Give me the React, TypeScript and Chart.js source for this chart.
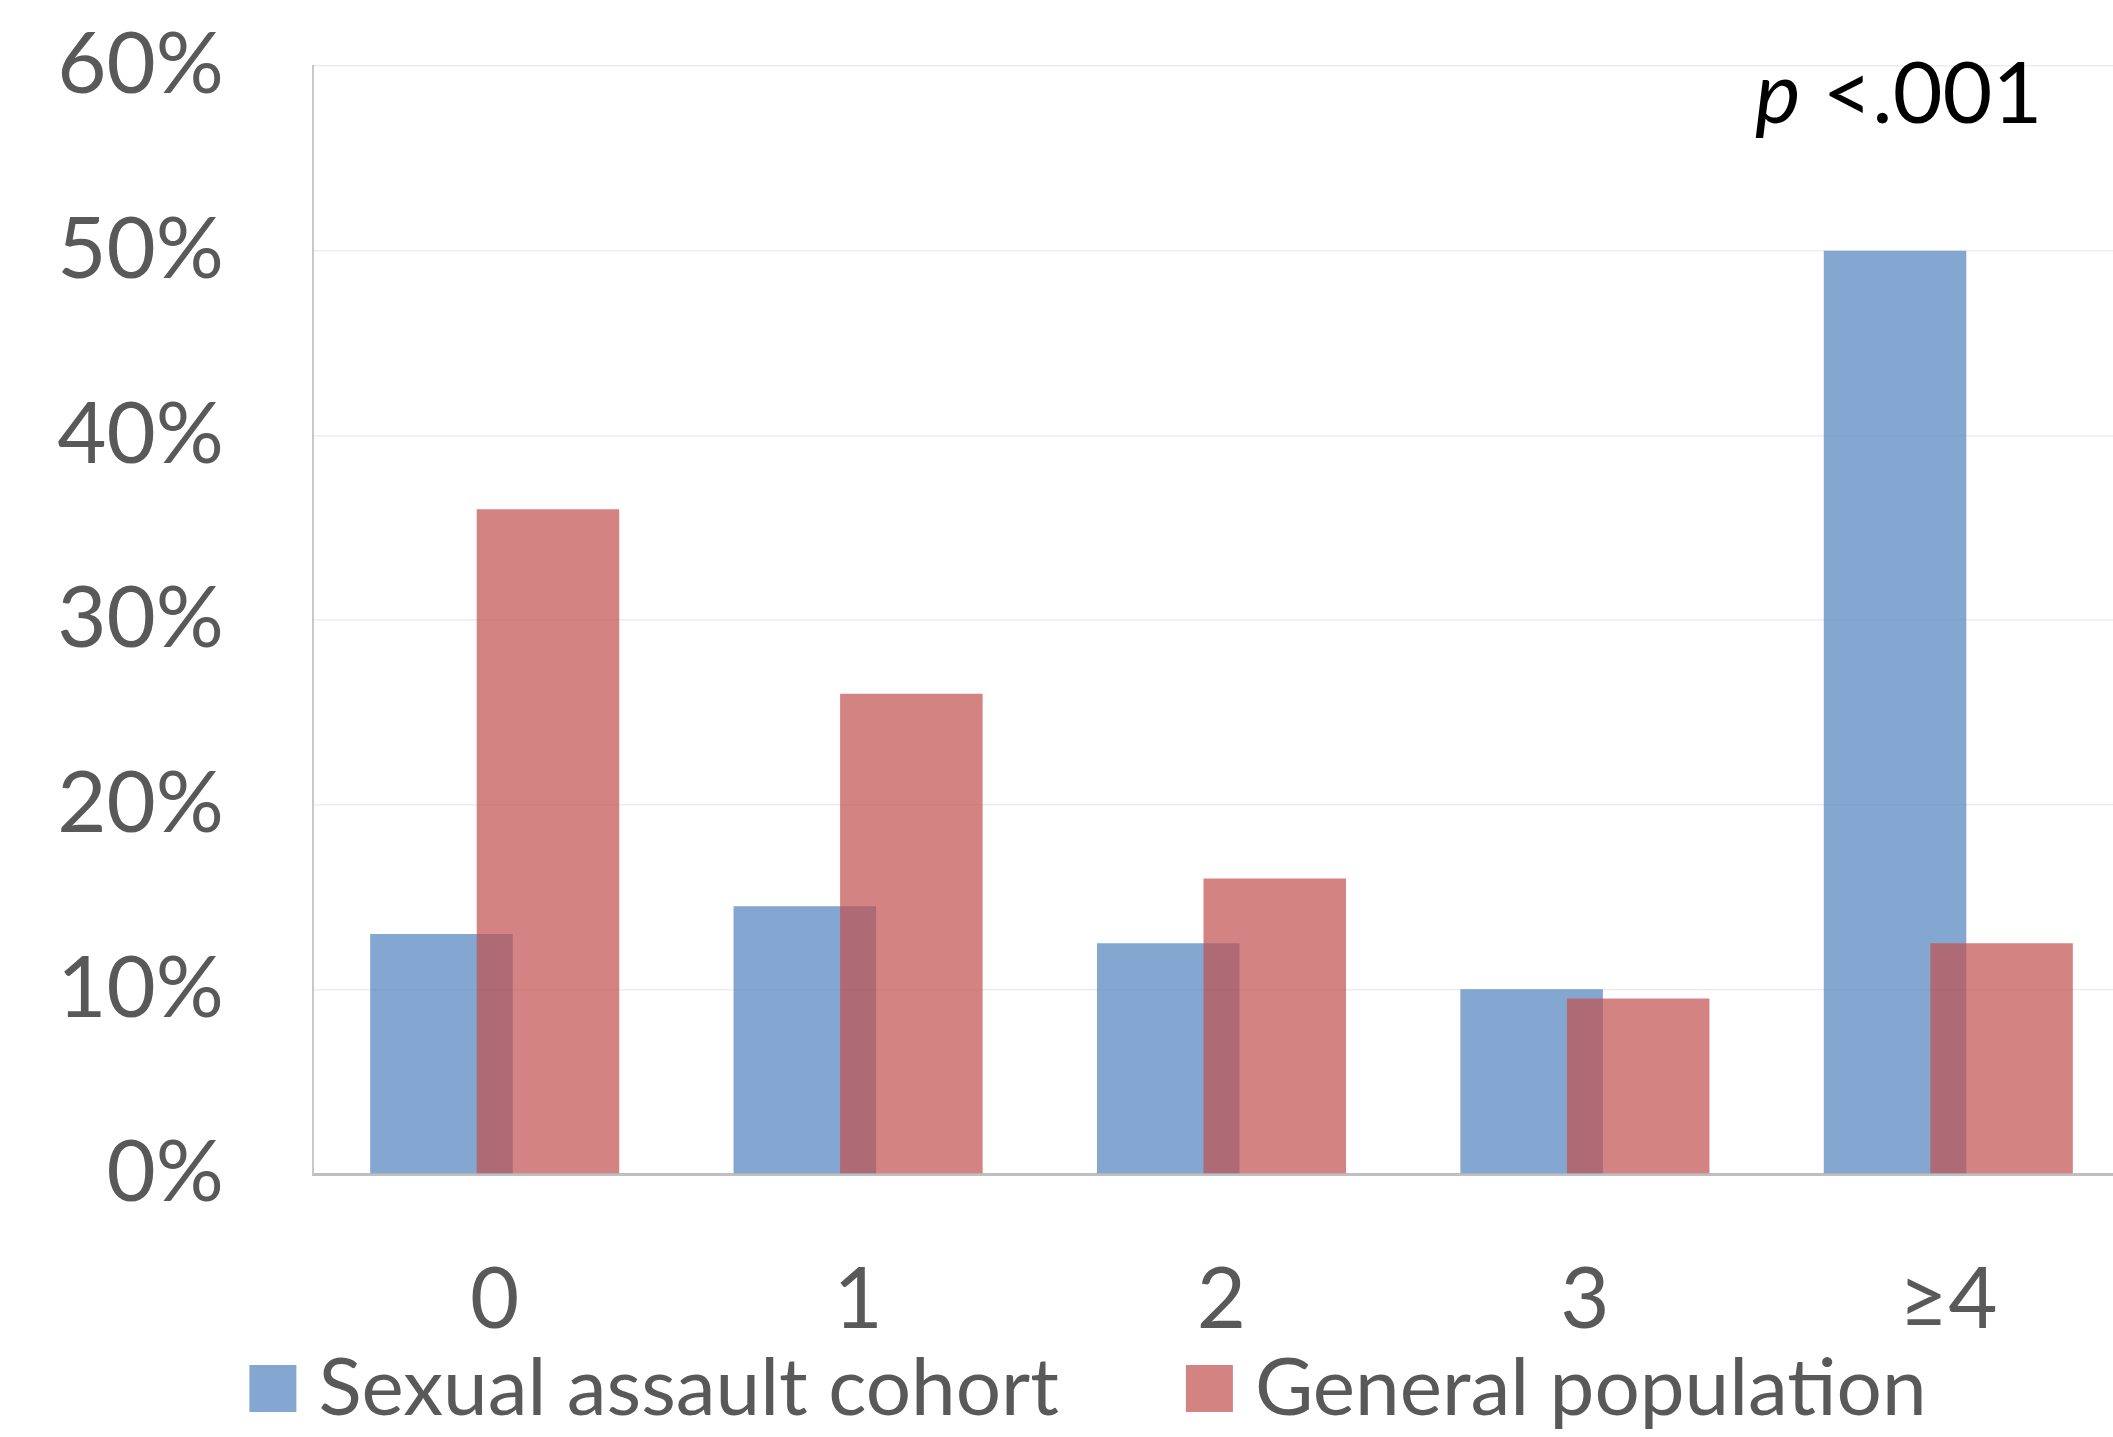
import React, { useEffect, useRef } from 'react';
import { Chart, registerables } from 'chart.js';

Chart.register(...registerables);

// ---- data ----
const categories = ['0', '1', '2', '3', '≥4'];
const assaultCohort = [13, 14.5, 12.5, 10, 50];
const generalPopulation = [36, 26, 16, 9.5, 12.5];
const seriesNames = ['Sexual assault cohort', 'General population'];
const yMin = 0;
const yMax = 60;
const yStep = 10;
const pValueItalic = 'p';
const pValueRest = ' <.001';

// ---- style ----
const FONT = 'Lato';
const TEXT_GREY = '#595959';
const BLUE = 'rgba(79,129,189,0.7)';
const RED = 'rgba(192,80,77,0.7)';
const CANVAS_W = 2140;
const CANVAS_H = 1437;

const drawOrderPlugin = {
  id: 'drawOrder',
  beforeDatasetsDraw(chart: any) {
    // draw first dataset underneath, second on top
    const n = chart.data.datasets.length;
    for (let i = 0; i < n; i++) {
      const meta = chart.getDatasetMeta(i);
      if (meta.visible) meta.controller.draw();
    }
    return false;
  },
};

const legendPlugin = {
  id: 'customLegend',
  afterDraw(chart: any, _args: any, opts: any) {
    const ctx = chart.ctx;
    ctx.save();
    ctx.font = `${opts.fontSize}px ${FONT}`;
    const items = chart.data.datasets.map((ds: any) => ({
      text: ds.label,
      color: ds.backgroundColor,
      w: ctx.measureText(ds.label).width,
    }));
    const total =
      items.reduce((s: number, it: any) => s + opts.boxSize + opts.textGap + it.w, 0) +
      opts.itemGap * (items.length - 1);
    let x = opts.centerX - total / 2;
    ctx.textBaseline = 'alphabetic';
    ctx.textAlign = 'left';
    for (const it of items) {
      ctx.fillStyle = it.color;
      ctx.fillRect(x, opts.boxTop, opts.boxSize, opts.boxSize);
      ctx.fillStyle = TEXT_GREY;
      ctx.fillText(it.text, x + opts.boxSize + opts.textGap, opts.baseline);
      x += opts.boxSize + opts.textGap + it.w + opts.itemGap;
    }
    ctx.restore();
  },
};

const pValuePlugin = {
  id: 'pValue',
  afterDraw(chart: any, _args: any, opts: any) {
    const ctx = chart.ctx;
    ctx.save();
    ctx.fillStyle = '#000000';
    ctx.textBaseline = 'alphabetic';
    ctx.textAlign = 'left';
    ctx.font = `italic ${opts.fontSize}px ${FONT}`;
    ctx.fillText(pValueItalic, opts.x, opts.baseline);
    const w = ctx.measureText(pValueItalic).width;
    ctx.font = `${opts.fontSize}px ${FONT}`;
    ctx.fillText(pValueRest, opts.x + w, opts.baseline);
    ctx.restore();
  },
};

export default function App() {
  const canvasRef = useRef<HTMLCanvasElement | null>(null);

  useEffect(() => {
    const canvas = canvasRef.current;
    if (!canvas) return;
    const chart = new Chart(canvas, {
      type: 'bar',
      data: {
        labels: categories,
        datasets: [
          {
            label: seriesNames[0],
            data: assaultCohort,
            backgroundColor: BLUE,
            borderWidth: 0,
          },
          {
            label: seriesNames[1],
            data: generalPopulation,
            backgroundColor: RED,
            borderWidth: 0,
          },
        ],
      },
      options: {
        responsive: false,
        animation: false,
        devicePixelRatio: 1,
        layout: { padding: { top: 66, right: 10, bottom: 0, left: 0 } },
        datasets: {
          bar: {
            categoryPercentage: 0.5863,
            barPercentage: 1.338,
          },
        },
        plugins: {
          legend: { display: false },
          tooltip: { enabled: false },
          customLegend: {
            fontSize: 80,
            boxSize: 47,
            textGap: 22,
            itemGap: 127,
            centerX: 1088,
            boxTop: 1365,
            baseline: 1415,
          },
          pValue: { fontSize: 86, x: 1755, baseline: 123 },
        } as any,
        scales: {
          x: {
            grid: { display: false, drawTicks: false },
            border: { display: true, color: '#BFBFBF', width: 3 },
            ticks: {
              color: TEXT_GREY,
              font: { family: FONT, size: 85 },
              padding: 76,
              maxRotation: 0,
              autoSkip: false,
            },
            afterFit(scale: any) {
              scale.height = 263;
              scale.paddingLeft = 0;
              scale.paddingRight = 0;
            },
          },
          y: {
            min: yMin,
            max: yMax,
            grid: { color: '#EDEDED', lineWidth: 1.5, drawTicks: false },
            border: { display: true, color: '#C8C8C8', width: 2 },
            ticks: {
              stepSize: yStep,
              color: TEXT_GREY,
              font: { family: FONT, size: 85 },
              padding: 89,
              callback: (v: any) => `${v}%`,
            },
            afterFit(scale: any) {
              scale.width = 313;
              scale.paddingTop = 0;
              scale.paddingBottom = 0;
            },
          },
        },
      },
      plugins: [drawOrderPlugin, legendPlugin, pValuePlugin],
    });

    let alive = true;
    if ((document as any).fonts) {
      Promise.all([
        (document as any).fonts.load(`86px ${FONT}`),
        (document as any).fonts.load(`italic 86px ${FONT}`),
      ]).then(() => {
        if (alive) chart.update();
      });
    }
    return () => {
      alive = false;
      chart.destroy();
    };
  }, []);

  return (
    <div
      style={{
        position: 'fixed',
        left: 0,
        top: 0,
        width: 2113,
        height: 1437,
        overflow: 'hidden',
        background: '#ffffff',
      }}
    >
      <canvas
        ref={canvasRef}
        width={CANVAS_W}
        height={CANVAS_H}
        style={{ display: 'block', width: CANVAS_W, height: CANVAS_H }}
      />
    </div>
  );
}
